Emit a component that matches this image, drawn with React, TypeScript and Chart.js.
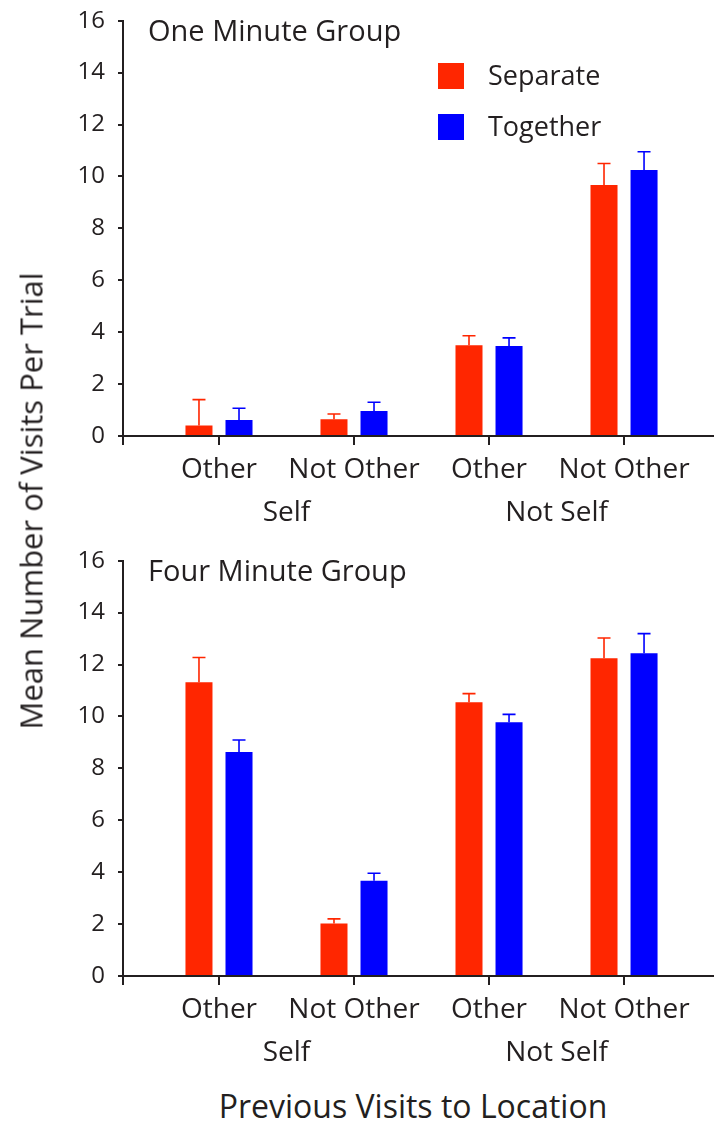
import React, { useEffect, useRef } from 'react';
import { Chart, registerables } from 'chart.js';

Chart.register(...registerables);

// ---------- data ----------
const categories = ['Other', 'Not Other', 'Other', 'Not Other'];
const groupLabels = ['Self', 'Not Self'];
const seriesNames = ['Separate', 'Together'];
const yTickValues = [0, 2, 4, 6, 8, 10, 12, 14, 16];

const oneMinuteSeparate = [0.4, 0.65, 3.5, 9.67];
const oneMinuteSeparateErr = [1.0, 0.2, 0.36, 0.83];
const oneMinuteTogether = [0.62, 0.96, 3.47, 10.25];
const oneMinuteTogetherErr = [0.45, 0.34, 0.31, 0.7];

const fourMinuteSeparate = [11.32, 2.02, 10.55, 12.24];
const fourMinuteSeparateErr = [0.95, 0.18, 0.33, 0.78];
const fourMinuteTogether = [8.63, 3.67, 9.78, 12.43];
const fourMinuteTogetherErr = [0.46, 0.29, 0.3, 0.76];

// ---------- styles ----------
const RED = '#ff2600';
const BLUE = '#0000ff';
const INK = '#231f20';
const FONT = "'Open Sans', 'Noto Sans', sans-serif";

const decorPlugin = {
  id: 'decor',
  afterDatasetsDraw(chart: any) {
    const ctx = chart.ctx;
    const yScale = chart.scales.y;
    chart.data.datasets.forEach((ds: any, di: number) => {
      const meta = chart.getDatasetMeta(di);
      meta.data.forEach((bar: any, i: number) => {
        const v = ds.data[i].y;
        const e = ds.errors[i];
        const top = yScale.getPixelForValue(v + e);
        ctx.save();
        ctx.strokeStyle = ds.backgroundColor;
        ctx.lineWidth = 1.6;
        ctx.beginPath();
        ctx.moveTo(bar.x, bar.y);
        ctx.lineTo(bar.x, top);
        ctx.moveTo(bar.x - 6.5, top);
        ctx.lineTo(bar.x + 6.5, top);
        ctx.stroke();
        ctx.restore();
      });
    });
  },
  afterDraw(chart: any) {
    const ctx = chart.ctx;
    const opts = chart.options.plugins.decor;
    const area = chart.chartArea;
    const xScale = chart.scales.x;
    ctx.save();
    // extra downward tick at the axis corner
    ctx.strokeStyle = INK;
    ctx.lineWidth = 2;
    ctx.beginPath();
    ctx.moveTo(area.left, area.bottom);
    ctx.lineTo(area.left, area.bottom + 9);
    ctx.stroke();
    // panel title
    ctx.fillStyle = INK;
    ctx.font = `29px ${FONT}`;
    ctx.textAlign = 'left';
    ctx.textBaseline = 'alphabetic';
    ctx.fillText(opts.title, area.left + 25, 41);
    // group labels
    ctx.font = `28px ${FONT}`;
    ctx.textAlign = 'center';
    groupLabels.forEach((g, gi) => {
      const px = xScale.getPixelForValue(gi * 2 + 0.5);
      ctx.fillText(g, px, area.bottom + 85);
    });
    // legend
    if (opts.legend) {
      ctx.font = `27px ${FONT}`;
      ctx.textAlign = 'left';
      ctx.textBaseline = 'middle';
      chart.data.datasets.forEach((ds: any, di: number) => {
        const top = 63 + di * 51;
        ctx.fillStyle = ds.backgroundColor;
        ctx.fillRect(438, top, 26, 26);
        ctx.fillStyle = INK;
        ctx.fillText(ds.label, 488, top + 14);
      });
    }
    ctx.restore();
  },
};

function makeDataset(label: string, color: string, values: number[], errs: number[]) {
  return {
    label,
    backgroundColor: color,
    borderWidth: 0,
    data: values.map((v, i) => ({ x: i, y: v })),
    errors: errs,
    categoryPercentage: 0.593,
    barPercentage: 0.675,
  };
}

function buildConfig(title: string, legend: boolean, sep: number[], sepErr: number[], tog: number[], togErr: number[]) {
  return {
    type: 'bar',
    data: {
      datasets: [
        makeDataset(seriesNames[0], RED, sep, sepErr),
        makeDataset(seriesNames[1], BLUE, tog, togErr),
      ],
    },
    options: {
      animation: false,
      responsive: false,
      devicePixelRatio: 1,
      layout: { padding: { top: 20.7, right: 5, left: 0, bottom: 0 } },
      plugins: {
        legend: { display: false },
        tooltip: { enabled: false },
        decor: { title, legend },
      },
      scales: {
        x: {
          type: 'linear',
          min: -0.711,
          max: 3.659,
          offset: false,
          z: 1,
          afterBuildTicks: (s: any) => {
            s.ticks = categories.map((_, i) => ({ value: i }));
          },
          afterFit: (s: any) => {
            s.height = 104;
          },
          ticks: {
            callback: (_v: any, i: number) => categories[i],
            font: { family: FONT, size: 28 },
            color: INK,
            padding: 8,
            autoSkip: false,
            maxRotation: 0,
          },
          grid: { offset: false, drawOnChartArea: false, drawTicks: true, tickLength: 9, lineWidth: 2, color: INK },
          border: { display: true, color: INK, width: 2 },
        },
        y: {
          min: 0,
          max: 16,
          afterBuildTicks: (s: any) => {
            s.ticks = yTickValues.map((v) => ({ value: v }));
          },
          afterFit: (s: any) => {
            s.width = 123;
          },
          ticks: {
            font: { family: FONT, size: 24, lineHeight: 0.5 },
            color: INK,
            padding: 13,
          },
          grid: { drawOnChartArea: false, drawTicks: true, tickLength: 5, lineWidth: 2, color: INK },
          border: { display: true, color: INK, width: 2 },
        },
      },
    },
    plugins: [decorPlugin],
  };
}

export default function App() {
  const ref1 = useRef<HTMLCanvasElement>(null);
  const ref2 = useRef<HTMLCanvasElement>(null);

  useEffect(() => {
    const c1 = new Chart(ref1.current as any, buildConfig('One Minute Group', true, oneMinuteSeparate, oneMinuteSeparateErr, oneMinuteTogether, oneMinuteTogetherErr) as any);
    const c2 = new Chart(ref2.current as any, buildConfig('Four Minute Group', false, fourMinuteSeparate, fourMinuteSeparateErr, fourMinuteTogether, fourMinuteTogetherErr) as any);
    return () => {
      c1.destroy();
      c2.destroy();
    };
  }, []);

  return (
    <div style={{ position: 'absolute', left: 0, top: 0, width: 718, height: 1123, background: '#fff', fontFamily: FONT, color: INK }}>
      <canvas ref={ref1} width={718} height={540} style={{ position: 'absolute', left: 0, top: 0, width: 718, height: 540 }} />
      <canvas ref={ref2} width={718} height={540} style={{ position: 'absolute', left: 0, top: 540, width: 718, height: 540 }} />
      <div
        style={{
          position: 'absolute',
          left: 31,
          top: 501,
          transform: 'translate(-50%, -50%) rotate(-90deg)',
          whiteSpace: 'nowrap',
          fontSize: 31,
          lineHeight: '31px',
        }}
      >
        Mean Number of Visits Per Trial
      </div>
      <div
        style={{
          position: 'absolute',
          left: 413,
          top: 1090,
          transform: 'translateX(-50%)',
          whiteSpace: 'nowrap',
          fontSize: 32,
          lineHeight: '32px',
        }}
      >
        Previous Visits to Location
      </div>
    </div>
  );
}
